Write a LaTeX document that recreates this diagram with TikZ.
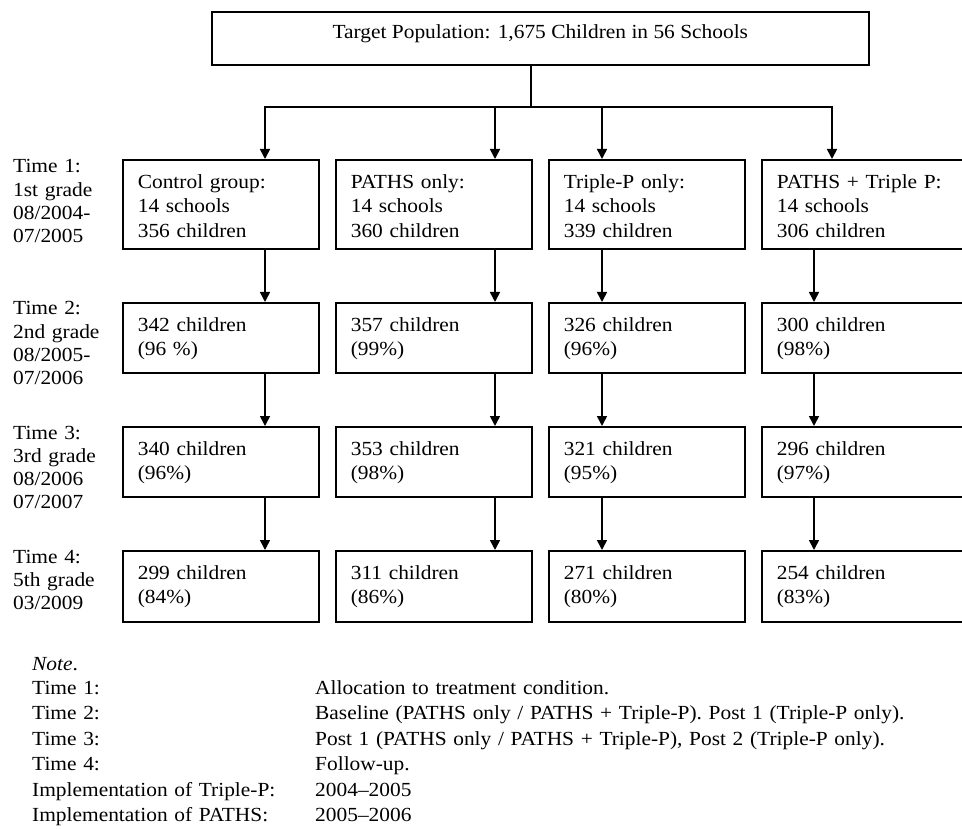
\documentclass[tikz,border=0pt]{standalone}
\usepackage{fontspec}
\setmainfont{Liberation Serif}[FakeStretch=1.07]
\usetikzlibrary{arrows.meta}
\tikzset{
  every node/.style={font=\fontsize{20}{24.5}\selectfont},
  grp/.style={draw, line width=1.6pt, anchor=north west, align=left, text width=166pt,
    inner xsep=15pt, inner ysep=15.5pt, text height=13pt},
  when/.style={anchor=base west, align=left, text width=110pt, inner sep=0pt,
    font=\fontsize{20}{23.2}\selectfont},
  arr/.style={line width=1.6pt, -{Triangle[length=10pt,width=10pt]}}
}

\begin{document}
\begin{tikzpicture}[x=1pt, y=-1pt]
\useasboundingbox (0,0) rectangle (962,829);
\clip (0,0) rectangle (962,829);

\node[draw, line width=1.6pt, anchor=north west, minimum width=657pt, minimum height=53pt,
  inner ysep=0pt, text height=13pt, text depth=12pt] (target) at (211,11)
  {Target Population: 1,675 Children in 56 Schools};

% time labels
\node[when] (t1) at (13,173) {Time 1:\\1st grade\\08/2004-\\07/2005};
\node[when] (t2) at (13,315) {Time 2:\\2nd grade\\08/2005-\\07/2006};
\node[when] (t3) at (13,439) {Time 3:\\3rd grade\\08/2006\\07/2007};
\node[when] (t4) at (13,563) {Time 4:\\5th grade\\03/2009};

% groups
\node[grp, text depth=45pt] (r1c1) at (122,159) {Control group:\\14 schools\\356 children};
\node[grp, text depth=45pt] (r1c2) at (335,159) {PATHS only:\\14 schools\\360 children};
\node[grp, text depth=45pt] (r1c3) at (548,159) {Triple-P only:\\14 schools\\339 children};
\node[grp, text depth=45pt, text width=180pt] (r1c4) at (761,159) {PATHS + Triple P:\\14 schools\\306 children};

\node[grp, text depth=26pt] (r2c1) at (122,302) {342 children\\(96 \%)};
\node[grp, text depth=26pt] (r2c2) at (335,302) {357 children\\(99\%)};
\node[grp, text depth=26pt] (r2c3) at (548,302) {326 children\\(96\%)};
\node[grp, text depth=26pt, text width=180pt] (r2c4) at (761,302) {300 children\\(98\%)};

\node[grp, text depth=26pt] (r3c1) at (122,426) {340 children\\(96\%)};
\node[grp, text depth=26pt] (r3c2) at (335,426) {353 children\\(98\%)};
\node[grp, text depth=26pt] (r3c3) at (548,426) {321 children\\(95\%)};
\node[grp, text depth=26pt, text width=180pt] (r3c4) at (761,426) {296 children\\(97\%)};

\node[grp, text depth=27pt] (r4c1) at (122,550) {299 children\\(84\%)};
\node[grp, text depth=27pt] (r4c2) at (335,550) {311 children\\(86\%)};
\node[grp, text depth=27pt] (r4c3) at (548,550) {271 children\\(80\%)};
\node[grp, text depth=27pt, text width=180pt] (r4c4) at (761,550) {254 children\\(83\%)};

% connectors
\coordinate (split) at (531,107);
\coordinate (a1) at (265,0);
\coordinate (a2) at (495,0);
\coordinate (a3) at (602,0);
\coordinate (a4) at (832,0);
\coordinate (b4) at (814,0);
\draw[line width=1.6pt] (target.south -| split) -- (split);
\foreach \c in {1,2,3,4} \draw[arr] (split) -| (r1c\c.north -| a\c);
\foreach \r/\s in {1/2,2/3,3/4}
  \foreach \x/\c in {a1/1,a2/2,a3/3,b4/4}
    \draw[arr] (r\r c\c.south -| \x) -- (r\s c\c.north -| \x);

% note
\node[when] (note) at (32,670) {\textit{Note}.};
\foreach \i/\lab/\txt in {1/{Time 1:}/{Allocation to treatment condition.},
    2/{Time 2:}/{Baseline (PATHS only / PATHS + Triple-P). Post 1 (Triple-P only).},
    3/{Time 3:}/{Post 1 (PATHS only / PATHS + Triple-P), Post 2 (Triple-P only).},
    4/{Time 4:}/{Follow-up.},
    5/{Implementation of Triple-P:}/{2004--2005},
    6/{Implementation of PATHS:}/{2005--2006}} {
  \node[when, text width=280pt] (nl\i) at (32,{668.5+25.5*\i}) {\lab};
  \node[when, text width=640pt] (nr\i) at (315,{668.5+25.5*\i}) {\txt};
}
\end{tikzpicture}
\end{document}
